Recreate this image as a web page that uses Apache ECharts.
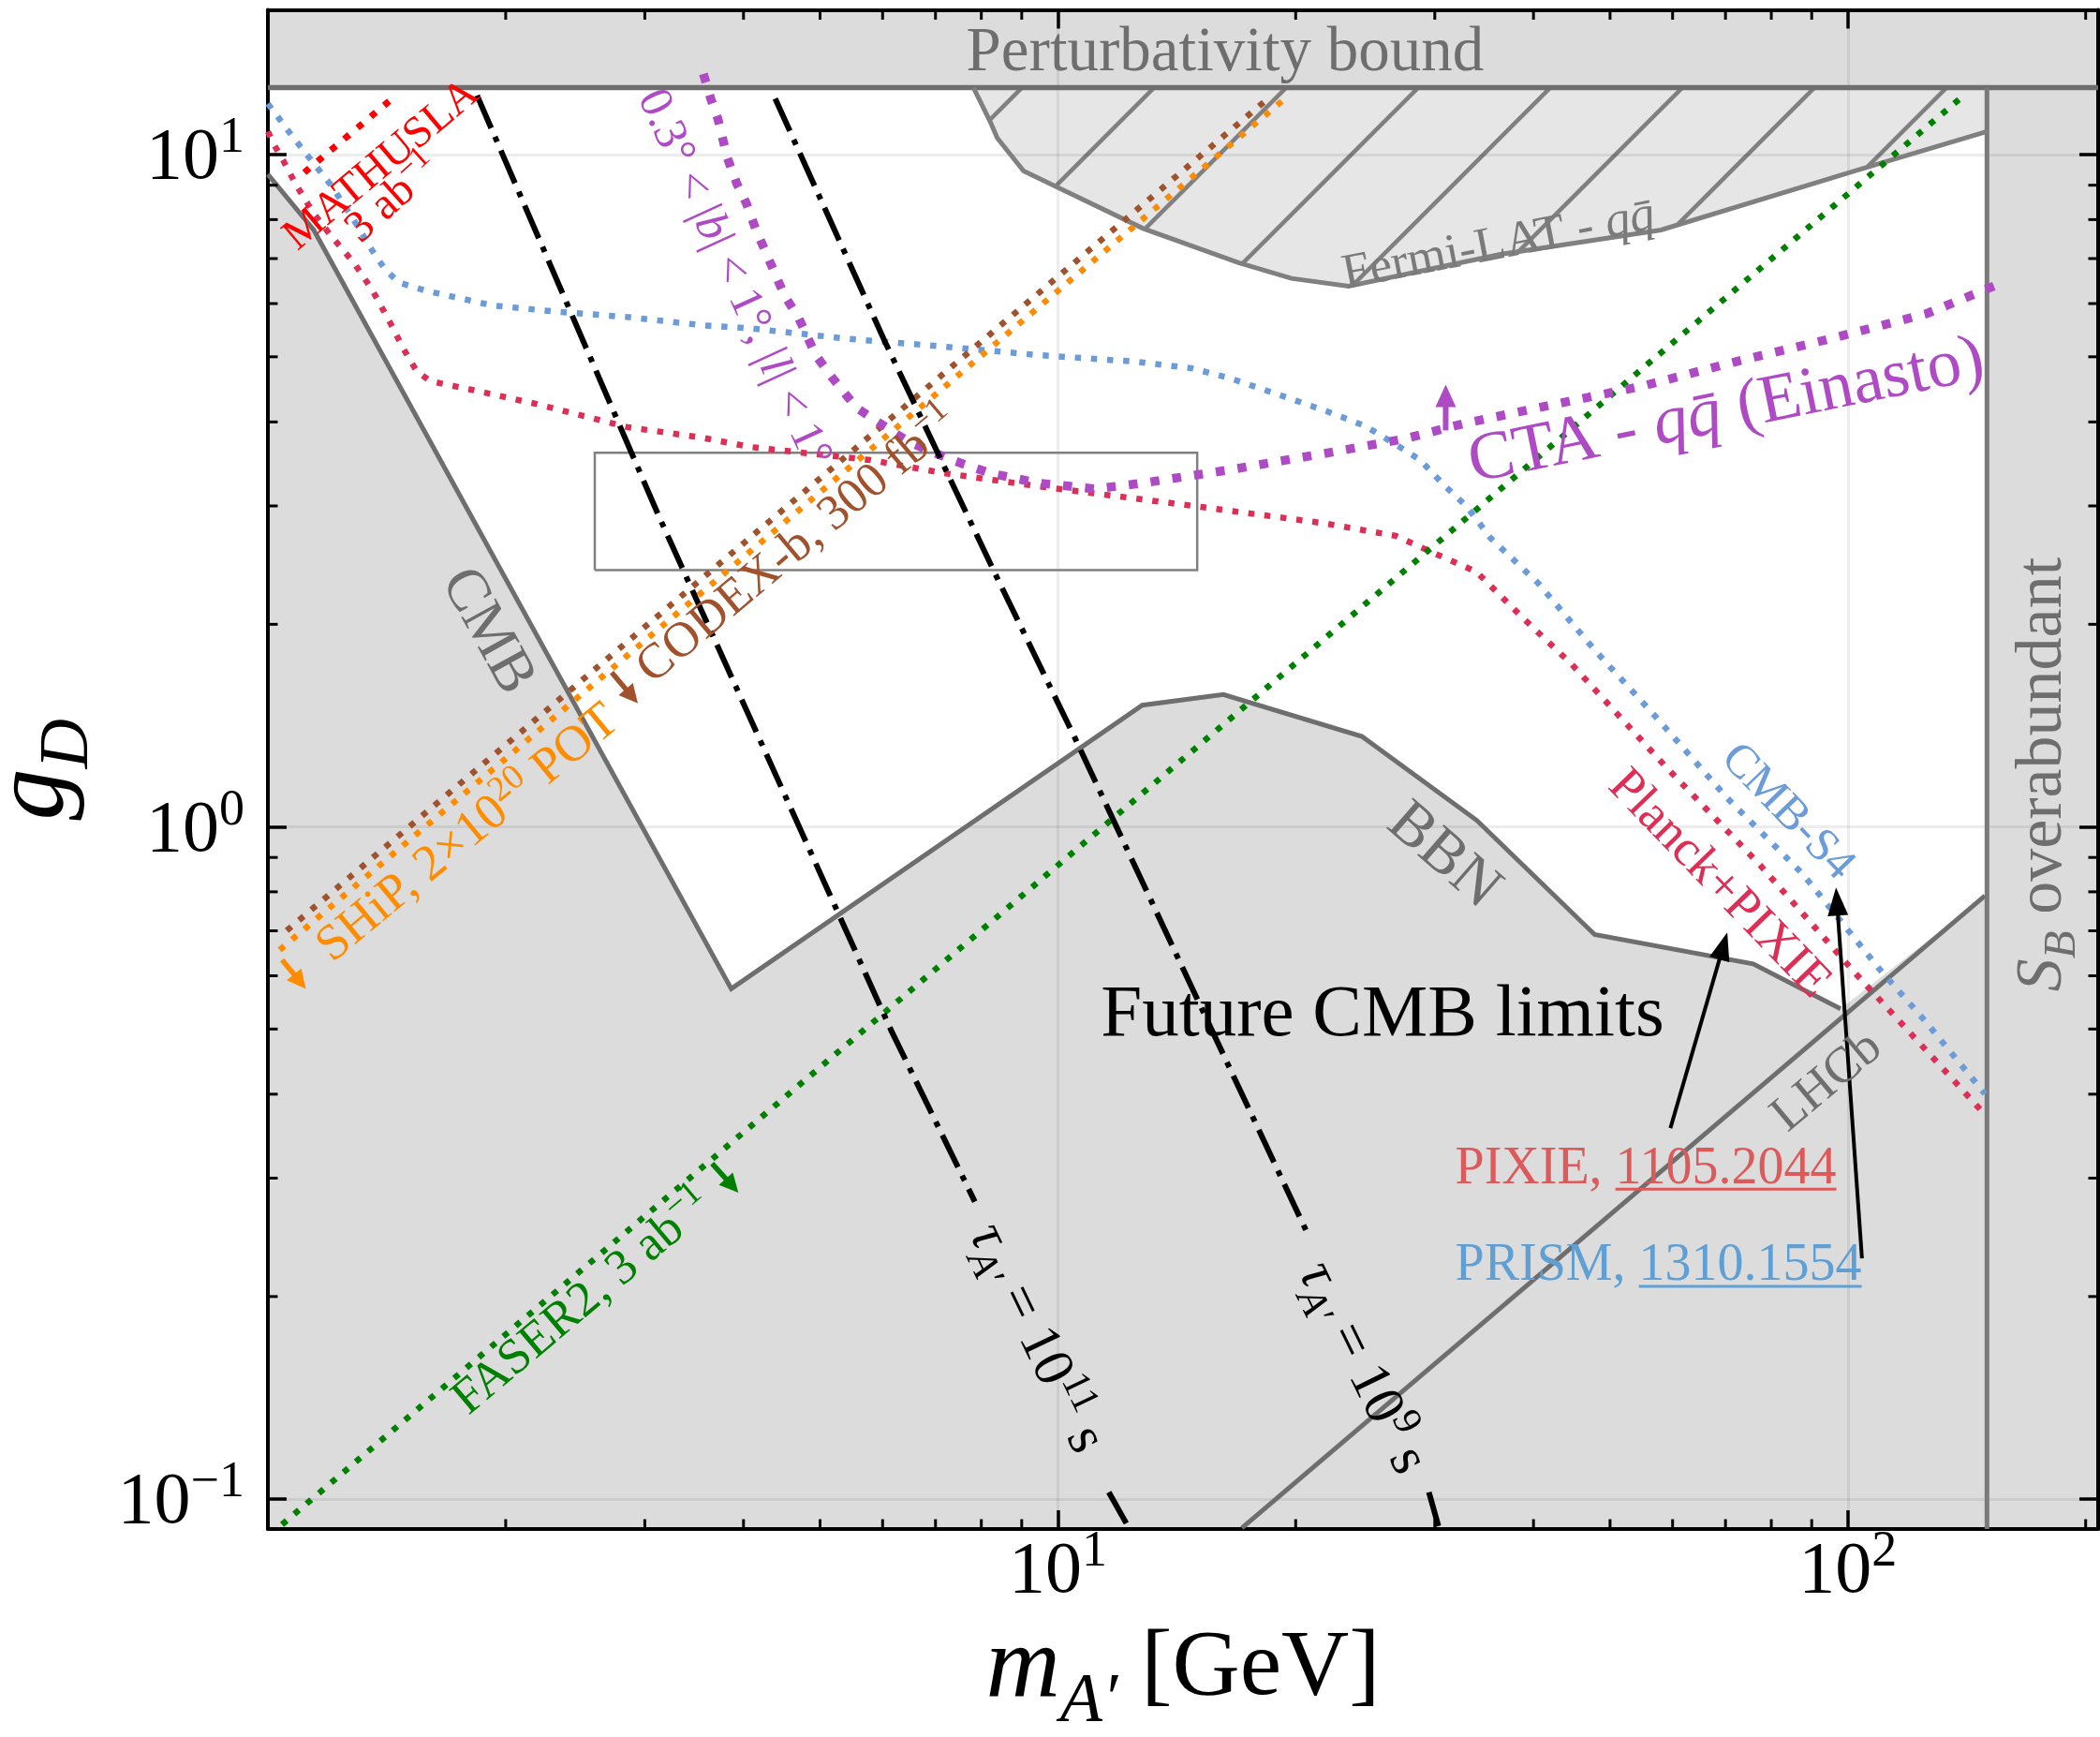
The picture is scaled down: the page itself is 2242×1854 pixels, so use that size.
<!DOCTYPE html>
<html><head><meta charset="utf-8">
<script src="https://cdn.jsdelivr.net/npm/echarts@6/dist/echarts.min.js"></script>
<style>html,body{margin:0;padding:0;background:#fff}#c{width:2242px;height:1854px}</style>
</head><body><div id="c"></div>
<script>
// ================= DATA (m_A' in GeV, g_D) =================
const xRange = [1, 207.4];
const yRange = [0.0902, 16.41];
const perturbativityG = 12.57;   // 4*pi
const sbMass = 150;

const xTickExps = [1, 2];
const yTickExps = [-1, 0, 1];
const xMinorTicks = [2,3,4,5,6,7,8,9,20,30,40,50,60,70,80,90,200];
const yMinorTicks = [0.2,0.3,0.4,0.5,0.6,0.7,0.8,0.9,2,3,4,5,6,7,8,9];

const cmbBound = [[1.00,9.34],[1.143,7.72],[3.86,0.574]];
const bbnBound = [[12.79,1.516],[16.2,1.572],[24.26,1.362],[33.9,1.022],[47.8,0.691],[75.9,0.625],[97.9,0.536]];
const lhcbBound = [[17.1,0.0905],[149.1,0.789]];
const fermiBound = [[7.82,12.57],[8.21,11.19],[8.38,10.58],[9.05,9.45],[9.98,8.94],[12.82,7.76],[16.93,6.90],[19.75,6.54],[23.34,6.37],[36.3,7.10],[58.0,7.72],[102.1,9.45],[150,10.82]];

const planckPixie = [[1.00,10.82],[1.018,10.34],[1.045,9.81],[1.084,9.04],[1.143,8.17],[1.204,7.55],[1.285,6.90],[1.354,6.30],[1.427,5.63],[1.483,5.15],[1.543,4.76],[1.605,4.60],[1.805,4.47],[2.195,4.25],[2.850,3.93],[3.549,3.79],[4.091,3.67],[5.797,3.51],[7.140,3.36],[9.43,3.21],[12.46,3.08],[15.01,2.995],[21.69,2.828],[26.77,2.708],[29.49,2.572],[33.87,2.394],[38.89,2.038],[44.63,1.748],[58.82,1.228],[77.47,0.876],[102.1,0.606],[134.5,0.426],[149.1,0.373]];
const cmbS4 = [[1.00,11.90],[1.029,11.38],[1.070,10.70],[1.128,9.89],[1.204,8.98],[1.285,7.98],[1.354,7.21],[1.408,6.74],[1.464,6.45],[1.584,6.27],[1.926,5.96],[2.343,5.83],[2.850,5.73],[3.549,5.57],[4.091,5.51],[5.405,5.32],[7.142,5.18],[9.44,5.03],[12.47,4.92],[14.74,4.81],[16.47,4.65],[18.94,4.40],[21.77,4.16],[24.50,3.944],[26.43,3.737],[28.71,3.515],[30.76,3.229],[32.95,2.992],[35.30,2.687],[40.52,2.305],[47.82,1.831],[57.22,1.454],[70.35,1.103],[87.70,0.850],[109.4,0.616],[125.6,0.512],[149.1,0.4005]];
const ctaEinasto = [[3.559,13.18],[3.635,12.11],[3.711,11.31],[3.816,9.89],[3.924,9.04],[4.035,8.45],[4.149,7.72],[4.325,6.90],[4.511,6.16],[4.702,5.70],[4.937,5.03],[5.184,4.65],[5.559,4.20],[5.878,4.02],[6.479,3.734],[7.343,3.511],[8.209,3.356],[9.44,3.245],[11.15,3.180],[12.82,3.245],[16.47,3.394],[21.77,3.591],[27.54,3.778],[32.49,3.972],[41.65,4.227],[54.88,4.521],[72.31,4.921],[95.26,5.323],[125.6,5.793],[153.3,6.374]];
const mathusla = [[1.112,9.40],[1.450,12.22]];
const ship = [[1.035,0.6556],[19.48,12.17]];
const codexb = [[1.0564,0.7004],[18.54,12.17]];
const faser2 = [[1.042,0.0916],[140.2,12.24]];
const tau11Upper = [[1.840,12.24],[3.122,2.905],[6.152,0.4975],[7.85,0.2768]];
const tau11Lower = [[11.6,0.1023],[12.31,0.0904]];
const tau9Upper = [[4.387,12.11],[6.042,5.263],[8.30,2.399],[10.52,1.352],[14.90,0.5645],[20.82,0.2447]];
const tau9Lower = [[29.49,0.1023],[30.32,0.0911]];
const boxM = [2.593, 15.01];
const boxG = [2.408, 3.60];

// arrows: [m_from, g_from, m_to, g_to]
const arrows = [
  [30.97,3.886,30.97,4.547],   // CTA
  [1.042,0.6339,1.117,0.5737], // SHiP
  [2.724,1.696,2.940,1.526],   // CODEX-b
  [3.650,0.3155,3.941,0.2855], // FASER2
  [59.62,0.3561,70.37,0.6961], // PIXIE
  [104.2,0.2279,96.6,0.8117]   // PRISM
];

const labelTexts = [
  '{r|Perturbativity bound}',
  '{r|Fermi-LAT - }{i|qq\u0304}',
  '{r|CTA - }{i|qq\u0304}{r| (Einasto)}',
  '{r|0.3° < |}{i|b}{r|| < 1°, |}{i|l}{r|| < 1°}',
  '{r|CODEX-b, 300 fb}{s|−1}',
  '{r|SHiP, 2×10}{s|20}{r| POT}',
  '{r|FASER2, 3 ab}{s|−1}',
  '{r|MATHUSLA}',
  '{r|3 ab}{s|−1}',
  '{r|CMB}',
  '{r|BBN}',
  '{r|LHCb}',
  '{r|CMB-S4}',
  '{r|Planck+PIXIE}',
  '{i|τ}{b|A′}{r| = 10}{s|11}{r| s}',
  '{i|τ}{b|A′}{r| = 10}{s|9}{r| s}',
  '{r|Future CMB limits}',
  '{r|PIXIE, 1105.2044}',
  '{r|PRISM, 1310.1554}',
  '{i|S}{b|B}{r| overabundant}'
];
const labelAnchors = [
  [16.28,14.13],[36.14,7.32],[70.18,4.135],[3.885,6.54],[4.691,2.622],[1.794,0.9759],[2.506,0.1960],
  [1.394,9.64],[1.442,8.596],[1.894,1.952],[30.76,0.9037],[94.2,0.417],[83.8,1.0507],[68.66,0.8208],
  [9.38,0.1731],[24.26,0.1564],[25.76,0.5236],[31.83,0.3094],[31.83,0.2217],[176.6,1.196]
];

// ================= STYLES =================
const FONT = "'Liberation Serif','Times New Roman',serif";
const GRAY = '#dcdcdc', EDGE = '#6e6e6e', FERMI = '#808080';
const PURPLE = '#ae4ac4', CRIMSON = '#dc2f55', BLUE = '#6b9bd8';
const labelStyles = [
  {rot:0, size:67, color:EDGE},
  {rot:11, size:53, color:'#7a7a7a'},
  {rot:11.5, size:73, color:PURPLE},
  {rot:-65.6, size:50, color:PURPLE},
  {rot:40, size:53, color:'#a0522d'},
  {rot:39.5, size:54, color:'#ff8c00'},
  {rot:40, size:53, color:'#008000'},
  {rot:40, size:47, color:'#ff0000'},
  {rot:42, size:48, color:'#ff0000'},
  {rot:-61, size:64, color:EDGE},
  {rot:-41, size:66, color:EDGE},
  {rot:40, size:54, color:EDGE},
  {rot:-46, size:50, color:BLUE},
  {rot:-46, size:54, color:CRIMSON},
  {rot:-64.4, size:61, color:'#000'},
  {rot:-64, size:61, color:'#000'},
  {rot:0, size:79, color:'#000'},
  {rot:0, size:56, color:'#dc5a5a', align:'left', underlineAfter:'PIXIE, ', underlineText:'1105.2044'},
  {rot:0, size:56, color:'#5f9fd3', align:'left', underlineAfter:'PRISM, ', underlineText:'1310.1554'},
  {rot:90, size:70, color:EDGE}
];
const arrowStyles = [
  {color:PURPLE, w:6, head:24, hw:11},
  {color:'#ff8c00', w:5.5, head:20, hw:10},
  {color:'#a0522d', w:5.5, head:20, hw:10},
  {color:'#008000', w:5.5, head:20, hw:10},
  {color:'#000', w:4, head:30, hw:11},
  {color:'#000', w:4, head:30, hw:11}
];

function richFor(S, color) {
  const base = {fontFamily: FONT, fill: color, color: color};
  return {
    r: Object.assign({}, base, {fontSize:S, lineHeight:S, padding:[0.3*S,0,0.3*S,0]}),
    i: Object.assign({}, base, {fontSize:S, lineHeight:S, fontStyle:'italic', padding:[0.3*S,0,0.3*S,0]}),
    s: Object.assign({}, base, {fontSize:0.7*S, lineHeight:0.7*S, padding:[0.18*S,0,0.72*S,0]}),
    b: Object.assign({}, base, {fontSize:0.7*S, lineHeight:0.7*S, fontStyle:'italic', padding:[0.75*S,0,0.15*S,0]})
  };
}

const measureCtx = document.createElement('canvas').getContext('2d');
function textWidth(t, S) { measureCtx.font = S + 'px ' + FONT; return measureCtx.measureText(t).width; }

function makeHatch() {
  const s = 141, c = document.createElement('canvas');
  c.width = s; c.height = s;
  const g = c.getContext('2d');
  g.strokeStyle = FERMI; g.lineWidth = 4.5;
  const c0 = 56.7;
  for (let k = -1; k <= 2; k++) {
    const cc = c0 + k * s;
    g.beginPath(); g.moveTo(cc + 20, -20); g.lineTo(cc - s - 20, s + 20); g.stroke();
  }
  return {image: c, repeat: 'repeat'};
}
const hatchPattern = makeHatch();

// ================= SERIES HELPERS =================
function polySeries(points, fill, z) {
  return {type:'custom', coordinateSystem:'cartesian2d', silent:true, z:z, clip:true, animation:false,
    data: points, encode:{x:0, y:1},
    renderItem: function (params, api) {
      if (params.dataIndex !== 0) return null;
      return {type:'polygon', shape:{points: points.map(p => api.coord(p))}, style:{fill: fill, stroke: null}};
    }};
}
function curve(data, color, width, dash, z) {
  return {type:'line', data: data, showSymbol:false, symbol:'none', silent:true, z: z, animation:false, clip:true,
    lineStyle:{color: color, width: width, type: dash || 'solid', cap:'butt', join:'miter'}};
}

const mainRegion = cmbBound.concat(bbnBound, [lhcbBound[1], [sbMass, yRange[0]], [xRange[0], yRange[0]]]);
const sbRegion = [[sbMass, yRange[0]], [xRange[1], yRange[0]], [xRange[1], perturbativityG], [sbMass, perturbativityG]];
const pertRegion = [[xRange[0], perturbativityG], [xRange[1], perturbativityG], [xRange[1], yRange[1]], [xRange[0], yRange[1]]];
const fermiRegion = fermiBound.concat([[sbMass, perturbativityG]]);
const boxLine = [[boxM[0],boxG[0]],[boxM[1],boxG[0]],[boxM[1],boxG[1]],[boxM[0],boxG[1]],[boxM[0],boxG[0]]];

const DOT = w => [w, 1.65 * w];
const DASHDOT = [38, 10, 6, 10];

const series = [
  polySeries(mainRegion, GRAY, 1),
  polySeries(sbRegion, GRAY, 1),
  polySeries(pertRegion, GRAY, 1),
  polySeries(fermiRegion, '#e6e6e6', 1),
  polySeries(fermiRegion, hatchPattern, 1),
  curve(cmbBound.concat(bbnBound), EDGE, 5, null, 3),
  curve(lhcbBound, EDGE, 5, null, 3),
  curve([[xRange[0], perturbativityG],[xRange[1], perturbativityG]], EDGE, 5.5, null, 3),
  curve([[sbMass, yRange[0]],[sbMass, perturbativityG]], '#7a7a7a', 5, null, 3),
  curve(fermiBound, FERMI, 5, null, 3),
  curve(boxLine, '#808080', 2.5, null, 3),
  curve(planckPixie, CRIMSON, 6.5, DOT(6.5), 4),
  curve(cmbS4, BLUE, 6.5, DOT(6.5), 4),
  curve(mathusla, '#ff0000', 7, DOT(7), 4),
  curve(codexb, '#a0522d', 6.5, DOT(6.5), 4),
  curve(ship, '#ff8c00', 6.5, DOT(6.5), 4),
  curve(faser2, '#008000', 6.5, DOT(6.5), 4),
  curve(ctaEinasto, PURPLE, 9.5, [9.5, 14], 4),
  curve(tau11Upper, '#000', 6, DASHDOT, 4),
  curve(tau11Lower, '#000', 6, DASHDOT, 4),
  curve(tau9Upper, '#000', 6, DASHDOT, 4),
  curve(tau9Lower, '#000', 6, DASHDOT, 4),
  {type:'custom', coordinateSystem:'cartesian2d', silent:true, z:5, clip:false, animation:false,
    data: arrows, encode:{x:[0,2], y:[1,3]},
    renderItem: function (params, api) {
      const a = api.coord([api.value(0), api.value(1)]);
      const b = api.coord([api.value(2), api.value(3)]);
      const st = arrowStyles[params.dataIndex];
      const dx = b[0]-a[0], dy = b[1]-a[1], L = Math.hypot(dx, dy), ux = dx/L, uy = dy/L;
      const bx = b[0]-ux*st.head, by = b[1]-uy*st.head;
      return {type:'group', children:[
        {type:'line', shape:{x1:a[0], y1:a[1], x2:bx+ux*3, y2:by+uy*3}, style:{stroke:st.color, lineWidth:st.w}},
        {type:'polygon', shape:{points:[[b[0],b[1]],[bx-uy*st.hw, by+ux*st.hw],[bx+uy*st.hw, by-ux*st.hw]]}, style:{fill:st.color}}
      ]};
    }},
  {type:'custom', coordinateSystem:'cartesian2d', silent:true, z:6, clip:false, animation:false,
    data: labelAnchors, encode:{x:0, y:1},
    renderItem: function (params, api) {
      const i = params.dataIndex, st = labelStyles[i];
      const p = api.coord(labelAnchors[i]);
      const align = st.align || 'center';
      const txt = {type:'text', x:p[0], y:p[1], rotation: st.rot * Math.PI / 180,
        style:{text: labelTexts[i], rich: richFor(st.size, st.color), fill: st.color,
          font: st.size + 'px ' + FONT, align: align, textAlign: align, verticalAlign:'middle', textVerticalAlign:'middle'}};
      if (!st.underlineAfter) return txt;
      const x0 = p[0] + textWidth(st.underlineAfter, st.size);
      const w = textWidth(st.underlineText, st.size);
      const uy = p[1] + 0.38 * st.size;
      return {type:'group', children:[txt,
        {type:'line', shape:{x1:x0, y1:uy, x2:x0+w, y2:uy}, style:{stroke: st.color, lineWidth:3}}]};
    }},
  {type:'custom', coordinateSystem:'cartesian2d', silent:true, z:7, clip:false, animation:false,
    data: xMinorTicks.map(v => [v, yRange[0]]), encode:{x:0, y:1},
    renderItem: function (params, api) {
      const v = api.value(0);
      const b = api.coord([v, yRange[0]]), t = api.coord([v, yRange[1]]);
      const s = {stroke:'#000', lineWidth:3};
      return {type:'group', children:[
        {type:'line', shape:{x1:b[0], y1:b[1], x2:b[0], y2:b[1]-10.5}, style:s},
        {type:'line', shape:{x1:t[0], y1:t[1], x2:t[0], y2:t[1]+10.5}, style:s}]};
    }},
  {type:'custom', coordinateSystem:'cartesian2d', silent:true, z:7, clip:false, animation:false,
    data: yMinorTicks.map(v => [xRange[0], v]), encode:{x:0, y:1},
    renderItem: function (params, api) {
      const v = api.value(1);
      const l = api.coord([xRange[0], v]), r = api.coord([xRange[1], v]);
      const s = {stroke:'#000', lineWidth:3};
      return {type:'group', children:[
        {type:'line', shape:{x1:l[0], y1:l[1], x2:l[0]+10.5, y2:l[1]}, style:s},
        {type:'line', shape:{x1:r[0], y1:r[1], x2:r[0]-10.5, y2:r[1]}, style:s}]};
    }}
];

// ================= AXES =================
const tickRich = {
  b: {fontSize:78, lineHeight:78, fontFamily:FONT, color:'#000', padding:[10,0,0,0]},
  s: {fontSize:54, lineHeight:54, fontFamily:FONT, color:'#000', padding:[0,0,34,0]}
};
function fmt(list) {
  return function (v) {
    const e = Math.round(Math.log10(v));
    if (Math.abs(Math.log10(v) - e) > 1e-6 || list.indexOf(e) < 0) return '';
    return '{b|10}{s|' + (e < 0 ? '−' + (-e) : e) + '}';
  };
}
const nameRich = {
  i: {fontSize:110, lineHeight:110, fontStyle:'italic', fontFamily:FONT, color:'#000', padding:[0,0,22,0]},
  r: {fontSize:100, lineHeight:110, fontFamily:FONT, color:'#000', padding:[0,0,22,0]},
  b: {fontSize:74, lineHeight:74, fontStyle:'italic', fontFamily:FONT, color:'#000', padding:[54,0,4,0]}
};
const axisLine = {show:true, onZero:false, lineStyle:{color:'#000', width:4}};
const axisTick = {show:true, inside:true, length:20, lineStyle:{color:'#000', width:3.5}};
const grid = {left:286, right:2, top:10.5, bottom:222, containLabel:false, outerBoundsMode:'none'};

const option = {
  animation:false,
  backgroundColor:'#fff',
  grid: grid,
  xAxis: [
    {type:'log', logBase:10, min:xRange[0], max:xRange[1], position:'bottom', z:2,
      axisLine:axisLine, axisTick:axisTick,
      splitLine:{show:true, lineStyle:{color:'rgba(0,0,0,0.07)', width:3}},
      axisLabel:{show:true, margin:3, showMinLabel:false, showMaxLabel:false, formatter:fmt(xTickExps), rich:tickRich, hideOverlap:false},
      name:'{i|m}{b|A′}{r| [GeV]}', nameLocation:'middle', nameGap:106, nameTextStyle:{rich:nameRich}},
    {type:'log', logBase:10, min:xRange[0], max:xRange[1], position:'top', z:2,
      axisLine:axisLine, axisTick:axisTick, splitLine:{show:false}, axisLabel:{show:false}}
  ],
  yAxis: [
    {type:'log', logBase:10, min:yRange[0], max:yRange[1], position:'left', z:2,
      axisLine:axisLine, axisTick:axisTick,
      splitLine:{show:true, lineStyle:{color:'rgba(0,0,0,0.07)', width:3}},
      axisLabel:{show:true, margin:25, showMinLabel:false, showMaxLabel:false, formatter:fmt(yTickExps), rich:tickRich, hideOverlap:false},
      name:'{i|g}{b|D}', nameLocation:'middle', nameGap:180, nameRotate:90, nameTextStyle:{rich:nameRich}},
    {type:'log', logBase:10, min:yRange[0], max:yRange[1], position:'right', z:2,
      axisLine:axisLine, axisTick:axisTick, splitLine:{show:false}, axisLabel:{show:false}}
  ],
  series: series
};
const chart = echarts.init(document.getElementById('c'), null, {renderer:'canvas', width:2242, height:1854});
chart.setOption(option);
</script>
</body></html>
